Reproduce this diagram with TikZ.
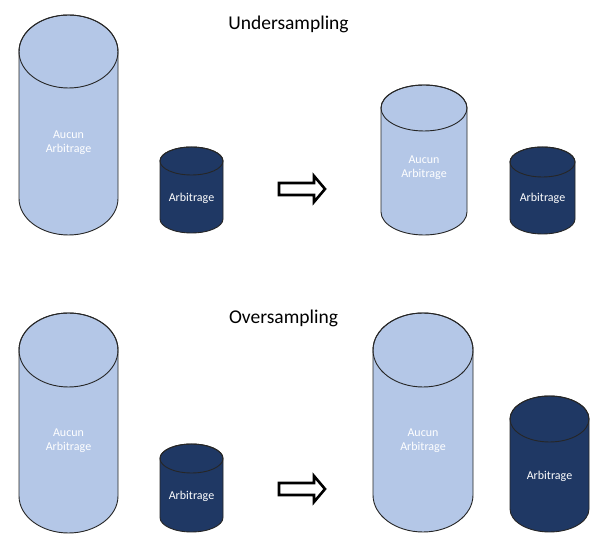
\documentclass[tikz,border=0pt]{standalone}
\usepackage{fontspec}
\setmainfont{Carlito}
\definecolor{drumlight}{HTML}{B4C7E7}
\definecolor{drumdark}{HTML}{1F3864}
\definecolor{edgegray}{HTML}{262626}
\tikzset{
  drumbody/.style={draw=edgegray, line width=0.9pt},
  drumlabel/.style={text=white, font=\fontsize{12}{14}\selectfont, align=center, inner sep=0pt},
  heading/.style={text=black, font=\fontsize{19.5}{22}\selectfont, inner sep=0pt},
  blockarrow/.style={draw=black, fill=white, line width=2.6pt, line join=miter},
}
% \drumshape{cx}{top centre y}{bottom centre y}{rx}{ry}{fill}
\newcommand\drumshape[6]{%
  \filldraw[drumbody, fill=#6]
    (#1-#4,#2) -- (#1-#4,#3) arc[start angle=180, end angle=360, x radius=#4, y radius=#5]
    -- (#1+#4,#2) arc[start angle=0, end angle=180, x radius=#4, y radius=#5] -- cycle;
  \draw[drumbody] (#1,#2) ellipse[x radius=#4, y radius=#5];
}
% \blockarrowat{x0}{y centre}
\newcommand\blockarrowat[2]{%
  \draw[blockarrow] (#1,#2+6) -- (#1+35,#2+6) -- (#1+35,#2+13) -- (#1+46,#2)
    -- (#1+35,#2-13) -- (#1+35,#2-6) -- (#1,#2-6) -- cycle;
}
\begin{document}
\begin{tikzpicture}[x=1pt, y=1pt]
  \useasboundingbox[fill=white] (0,0) rectangle (597,534);

  % ---- Undersampling ----
  \node[heading, anchor=base] (title1) at (288.5,504) {Undersampling};
  \drumshape{68.5}{482.5}{335.5}{49.5}{36.5}{drumlight}
  \node[drumlabel] (a1) at (68.5,391) {Aucun\\Arbitrage};
  \drumshape{191.5}{373}{315}{31.5}{14}{drumdark}
  \node[drumlabel] (b1) at (191.5,336) {Arbitrage};
  \blockarrowat{279}{345}
  \drumshape{424}{426}{322}{43}{23}{drumlight}
  \node[drumlabel] (c1) at (424,366) {Aucun\\Arbitrage};
  \drumshape{542.5}{372}{315}{32.5}{15}{drumdark}
  \node[drumlabel] (d1) at (542.5,336) {Arbitrage};

  % ---- Oversampling ----
  \node[heading, anchor=base] (title2) at (283.5,210) {Oversampling};
  \drumshape{68.5}{184}{38}{49.5}{37}{drumlight}
  \node[drumlabel] (a2) at (68.5,93) {Aucun\\Arbitrage};
  \drumshape{191.5}{75.5}{16.5}{31.5}{14.5}{drumdark}
  \node[drumlabel] (b2) at (191.5,38) {Arbitrage};
  \blockarrowat{279}{45}
  \drumshape{423}{184}{39}{50}{37}{drumlight}
  \node[drumlabel] (c2) at (423,93) {Aucun\\Arbitrage};
  \drumshape{549.5}{115}{25}{39.5}{23}{drumdark}
  \node[drumlabel] (d2) at (549.5,58) {Arbitrage};
\end{tikzpicture}
\end{document}
